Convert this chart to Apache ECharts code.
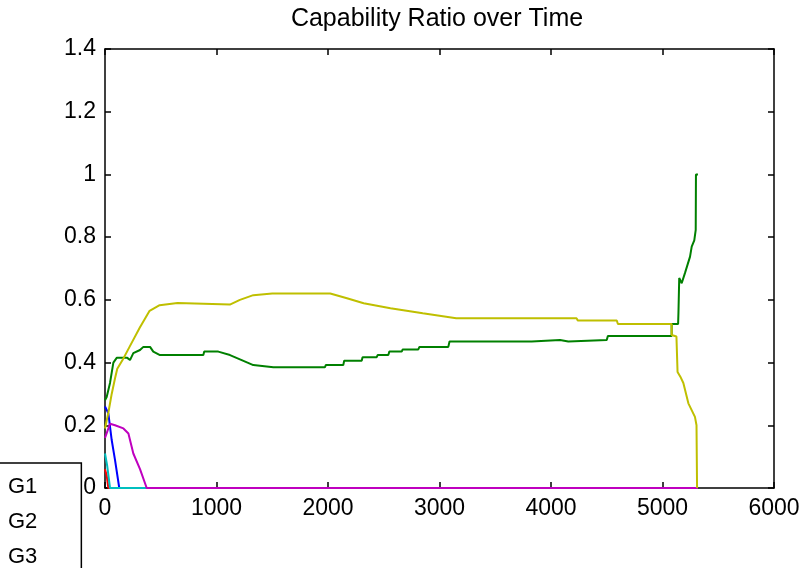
<!DOCTYPE html>
<html>
<head>
<meta charset="utf-8">
<script src="https://cdn.jsdelivr.net/npm/echarts@6/dist/echarts.min.js"></script>
<style>html,body{margin:0;padding:0;background:#fff;}#c{width:803px;height:568px;}</style>
</head>
<body>
<div id="c"></div>
<script>
// Series names and colours (MATLAB default order)
const seriesNames = ['G1', 'G2', 'G3', 'G4', 'G5', 'G6'];
const seriesColors = ['#0000ff', '#008000', '#ff0000', '#00bfbf', '#bf00bf', '#bfbf00'];

// [time, capability ratio]
const G1 = [[0,0.26],[30,0.238],[60,0.153],[90,0.089],[128,0],[5315,0]];
const G2 = [[0,0.28],[15,0.29],[45,0.335],[75,0.4],[105,0.415],[200,0.415],[224,0.408],[254,0.43],[314,0.44],[344,0.45],[404,0.45],[433,0.435],[493,0.424],[882,0.424],[890,0.435],[1016,0.435],[1121,0.424],[1226,0.408],[1330,0.392],[1510,0.385],[1973,0.385],[1980,0.392],[2137,0.392],[2145,0.406],[2302,0.406],[2310,0.417],[2437,0.417],[2445,0.424],[2541,0.424],[2550,0.435],[2661,0.435],[2670,0.442],[2810,0.442],[2820,0.45],[3079,0.45],[3090,0.467],[3827,0.467],[3835,0.472],[4081,0.472],[4085,0.467],[4155,0.467],[4160,0.472],[4500,0.472],[4510,0.485],[5082,0.485],[5082,0.523],[5140,0.523],[5143,0.558],[5150,0.67],[5172,0.653],[5202,0.686],[5247,0.738],[5262,0.77],[5285,0.79],[5298,0.823],[5300,1.0],[5318,1.0]];
const G3 = [[0,0.06],[15,0.04],[30,0],[5315,0]];
const G4 = [[0,0.11],[20,0.07],[45,0],[5315,0]];
const G5 = [[0,0.16],[20,0.18],[45,0.205],[90,0.2],[165,0.19],[210,0.174],[254,0.11],[314,0.06],[374,0],[5318,0]];
const G6 = [[0,0.19],[30,0.24],[60,0.3],[90,0.35],[110,0.38],[160,0.41],[220,0.45],[310,0.51],[400,0.565],[490,0.583],[650,0.59],[1120,0.585],[1210,0.6],[1330,0.615],[1500,0.62],[2020,0.62],[2170,0.605],[2320,0.589],[2560,0.573],[2850,0.557],[3150,0.541],[4230,0.541],[4240,0.534],[4590,0.534],[4600,0.523],[5082,0.523],[5082,0.488],[5125,0.483],[5135,0.37],[5160,0.355],[5187,0.335],[5232,0.27],[5291,0.227],[5305,0.2],[5310,0]];
const seriesData = [G1, G2, G3, G4, G5, G6];

// Axis settings
const xMin = 0, xMax = 6000, xStep = 1000;
const yMin = 0, yMax = 1.4, yStep = 0.2;
const titleText = 'Capability Ratio over Time';

const FONT = 'Liberation Sans, Arial, sans-serif';
const chart = echarts.init(document.getElementById('c'), null, {renderer: 'canvas'});

function axisBase(extra) {
  return Object.assign({
    axisLine: {show: true, onZero: false, lineStyle: {color: '#000', width: 1.5}},
    axisTick: {show: true, inside: true, length: 6, lineStyle: {color: '#000', width: 1.5}},
    splitLine: {show: false},
    axisLabel: {color: '#000', fontFamily: FONT, fontSize: 23, margin: 9, formatter: v => String(v)}
  }, extra);
}

chart.setOption({
  animation: false,
  backgroundColor: '#fff',
  title: {
    text: titleText, left: 437, top: 7, padding: 0, textAlign: 'center',
    textStyle: {color: '#000', fontFamily: FONT, fontSize: 25, fontWeight: 'normal'}
  },
  legend: {
    orient: 'vertical', left: -32, top: 463, height: 400,
    padding: [13, 44, 13, 5], itemGap: 13, itemWidth: 20, itemHeight: 2,
    backgroundColor: '#fff', borderColor: '#000', borderWidth: 1.5,
    icon: 'rect', selectedMode: false,
    textStyle: {color: '#000', fontFamily: FONT, fontSize: 22, padding: [0, 0, 0, 10]},
    data: seriesNames
  },
  grid: {left: 105, right: 29, top: 49, bottom: 80, containLabel: false},
  xAxis: [
    axisBase({type: 'value', min: xMin, max: xMax, interval: xStep, position: 'bottom'}),
    axisBase({type: 'value', min: xMin, max: xMax, interval: xStep, position: 'top', axisLabel: {show: false}})
  ],
  yAxis: [
    axisBase({type: 'value', min: yMin, max: yMax, interval: yStep, position: 'left'}),
    axisBase({type: 'value', min: yMin, max: yMax, interval: yStep, position: 'right', axisLabel: {show: false}})
  ],
  series: seriesNames.map((n, i) => ({
    name: n, type: 'line', data: seriesData[i], showSymbol: false, symbol: 'none',
    color: seriesColors[i], lineStyle: {color: seriesColors[i], width: 2},
    emphasis: {disabled: true}, clip: true
  }))
});
</script>
</body>
</html>
